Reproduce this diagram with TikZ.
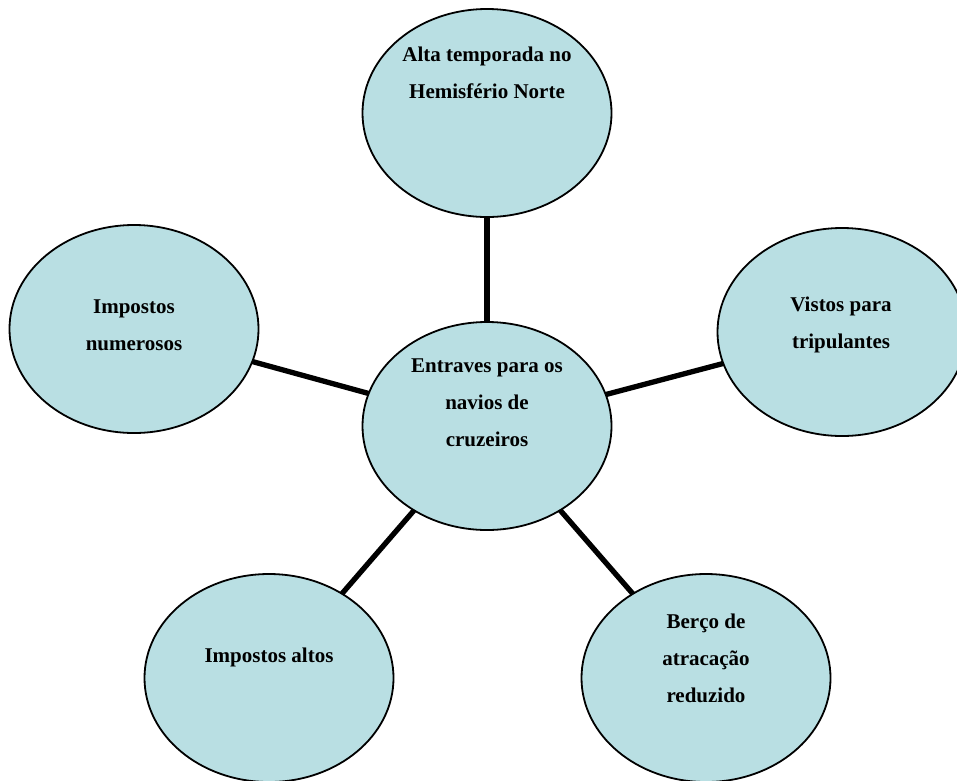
\documentclass[tikz,border=0pt]{standalone}
\usepackage{fontspec}
\setmainfont{Liberation Serif}
\usetikzlibrary{shapes.geometric}
\definecolor{bubble}{RGB}{185,223,227}
\tikzset{
  bubble/.style={ellipse, draw=black, line width=1.8pt, fill=bubble,
    minimum width=249pt, minimum height=208pt, inner sep=0pt, outer sep=0pt},
  label/.style={align=center, font=\bfseries\fontsize{21}{37}\selectfont, inner sep=0pt},
  link/.style={line width=5.3pt, black}
}
\begin{document}
\begin{tikzpicture}[x=1pt,y=-1pt]
\useasboundingbox (0,0) rectangle (957,780);
\clip (0,0) rectangle (957,780);
\node[bubble] (top) at (487,113) {};
\node[bubble] (left) at (134,329) {};
\node[bubble] (right) at (842,332) {};
\node[bubble] (center) at (487,426) {};
\node[bubble] (bl) at (269,678) {};
\node[bubble] (br) at (706,678) {};
\draw[link] (center) -- (top);
\draw[link] (center) -- (left);
\draw[link] (center) -- (right);
\draw[link] (center) -- (bl);
\draw[link] (center) -- (br);
\node[label] (ttop) at (487,73) {Alta temporada no\\Hemisfério Norte};
\node[label] (tleft) at (134,325) {Impostos\\numerosos};
\node[label] (tright) at (841,325) {Vistos para\\tripulantes};
\node[label] (tcenter) at (487,403) {Entraves para os\\navios de\\cruzeiros};
\node[label] (tbl) at (269,657) {Impostos altos};
\node[label] (tbr) at (706,658) {Berço de\\atracação\\reduzido};
\end{tikzpicture}
\end{document}
